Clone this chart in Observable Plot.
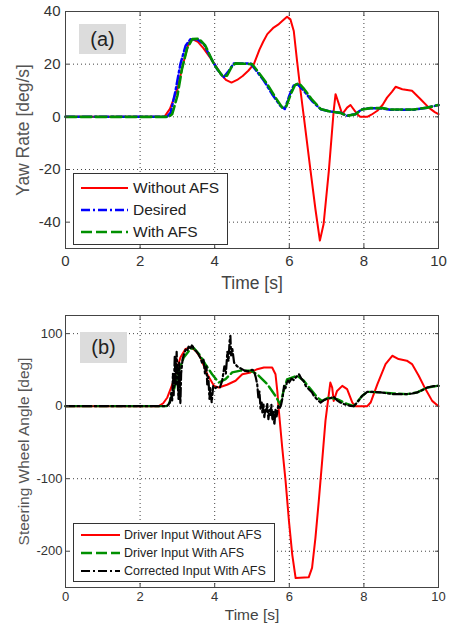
<!DOCTYPE html>
<html><head><meta charset="utf-8">
<script src="https://cdn.jsdelivr.net/npm/d3@7"></script>
<script src="https://cdn.jsdelivr.net/npm/@observablehq/plot@0.6"></script>
<style>
body{margin:0;background:#fff;font-family:"Liberation Sans",Arial,sans-serif;}
#wrap{position:relative;width:454px;height:632px;overflow:hidden;background:#fff}
.panel{position:absolute;left:0}
.tag{position:absolute;background:#dcdcdc;color:#222;display:flex;align-items:center;justify-content:center}
.legend{position:absolute;background:#fff;border:1px solid #333;box-sizing:border-box;color:#222}
.legend .row{display:flex;align-items:center;white-space:nowrap}
.legend svg{flex:none}
</style></head><body><div id="wrap"></div>
<script>
// ---------- Data ----------
const timeTicks = [0, 2, 4, 6, 8, 10];
const yawTicks = [-40, -20, 0, 20, 40];
const steerTicks = [-200, -100, 0, 100];

// (a) Yaw rate [deg/s]: [time, value]
const yawWithoutAFS = [[0,0],[2.65,0],[2.8,3],[3.0,10.5],[3.15,20],[3.3,28],[3.4,29.5],[3.55,28.5],[3.7,26],[3.85,23],[4.0,20],[4.15,16.5],[4.3,14],[4.45,13],[4.6,14],[4.75,15.5],[4.9,17.5],[5.05,20],[5.2,25.5],[5.3,28.5],[5.41,31.4],[5.58,33.9],[5.7,35],[5.81,36.4],[5.94,38],[6.03,37],[6.12,32.6],[6.21,21],[6.3,10],[6.39,0],[6.57,-20.5],[6.7,-35],[6.82,-47],[6.92,-40.7],[7.06,-20.5],[7.19,2.3],[7.24,8.6],[7.33,4.8],[7.42,1],[7.55,3.5],[7.64,4.5],[7.82,1],[7.9,0],[8.09,0],[8.2,0.8],[8.36,2.3],[8.5,4.5],[8.62,7.3],[8.75,9.5],[8.85,11.4],[9.03,10.5],[9.29,9.9],[9.52,6.7],[9.74,3.5],[9.9,1.8],[10,1]];
const yawDesired = [[0,0],[2.72,0],[2.82,1.6],[2.95,9.9],[3.08,20],[3.22,27],[3.35,29.5],[3.53,29.5],[3.71,27.6],[3.89,22.5],[4.07,18],[4.24,15],[4.38,17.5],[4.51,20.3],[4.96,20.3],[5.09,18],[5.32,13.7],[5.54,8.6],[5.76,4.2],[5.88,3],[6.0,8],[6.12,12],[6.22,12.4],[6.39,9.9],[6.61,6],[6.84,2.9],[7.1,2],[7.37,1.6],[7.55,0.4],[7.77,1],[7.95,2.9],[8.18,3.3],[8.5,3.2],[8.71,2.7],[9.34,2.7],[9.7,3.5],[10,4.5]];
const yawWithAFS = [[0,0],[2.76,0],[2.86,1],[3.0,8],[3.12,18],[3.26,26],[3.4,29.5],[3.58,29.7],[3.75,27],[3.98,20],[4.2,15.6],[4.33,15.6],[4.47,19.4],[4.56,20.3],[5.0,20],[5.18,16.8],[5.41,12.4],[5.63,7.3],[5.81,3.5],[5.92,4],[6.05,9],[6.15,12],[6.26,12.8],[6.4,10.5],[6.61,6.5],[6.84,3],[7.1,2],[7.37,1.5],[7.55,0.4],[7.77,1],[7.95,2.8],[8.18,3.3],[8.5,3.3],[8.71,2.8],[9.34,2.8],[9.7,3.5],[10,4.5]];

// (b) Steering wheel angle [deg]: [time, value]
const driverWithoutAFS = [[0,0],[2.5,0],[2.62,4],[2.73,12],[2.9,35],[3.08,67],[3.22,79],[3.35,81],[3.49,76.5],[3.62,67],[3.8,44],[3.98,28],[4.11,25.7],[4.33,29.5],[4.56,35],[4.74,44],[4.96,46.5],[5.14,51],[5.32,53.4],[5.54,53.4],[5.63,44],[5.68,20],[5.72,-6.5],[5.81,-57],[5.9,-103],[5.99,-158],[6.08,-205],[6.17,-237],[6.52,-236],[6.61,-223],[6.7,-182],[6.79,-131],[6.88,-76],[6.97,-20],[7.06,16.6],[7.1,32.6],[7.15,25.7],[7.19,7.3],[7.28,21],[7.42,28],[7.55,23.5],[7.69,5],[7.77,0],[8.09,0],[8.18,5],[8.36,30],[8.58,58],[8.76,69.5],[8.93,65],[9.15,62.7],[9.29,58],[9.47,42],[9.65,23.5],[9.83,7.3],[10,0]];
const driverWithAFS = [[0,0],[2.7,0],[2.77,3],[2.9,21],[3.04,49],[3.17,67],[3.35,79],[3.44,80],[3.58,72],[3.75,58],[3.93,44],[4.11,32.6],[4.29,37.3],[4.47,46.5],[4.69,49],[4.96,49],[5.14,44],[5.41,30.4],[5.63,14],[5.76,2],[5.85,22],[5.94,37],[6.21,42],[6.39,35],[6.57,23.5],[6.75,12],[6.88,7.3],[7.06,12],[7.28,9.7],[7.55,3],[7.73,0],[7.95,14],[8.09,19.8],[8.45,19],[8.8,17.5],[9.15,16.6],[9.43,19],[9.7,25.7],[9.97,28],[10,28]];
const correctedWithAFS = [[0,0],[2.72,0],[2.8,5],[2.84,20],[2.86,8],[2.88,45],[2.9,15],[2.93,70],[2.95,30],[2.98,75],[3.0,40],[3.03,10],[3.05,60],[3.08,3],[3.1,45],[3.14,65],[3.18,72],[3.22,78],[3.26,76],[3.3,82],[3.35,80],[3.4,85],[3.44,78],[3.5,76],[3.56,72],[3.62,66],[3.66,60],[3.7,64],[3.74,45],[3.78,55],[3.8,30],[3.83,40],[3.86,10],[3.88,25],[3.92,5],[3.96,28],[4.02,25],[4.08,27],[4.14,26],[4.2,35],[4.26,55],[4.3,45],[4.34,75],[4.37,62],[4.4,90],[4.42,97],[4.44,70],[4.47,80],[4.52,60],[4.6,55],[4.7,52],[4.8,49],[4.9,48],[5.0,50],[5.05,49],[5.1,40],[5.14,30],[5.17,12],[5.2,20],[5.23,-4],[5.26,5],[5.28,-10],[5.31,2],[5.33,-15],[5.36,-3],[5.39,-8],[5.41,3],[5.44,-18],[5.47,-5],[5.5,-12],[5.52,2],[5.55,-20],[5.58,-8],[5.6,-26],[5.63,-5],[5.66,-14],[5.7,0],[5.74,-3],[5.78,2],[5.82,12],[5.86,28],[5.9,25],[5.95,36],[6.0,33],[6.06,38],[6.12,36],[6.18,40],[6.26,44],[6.32,38],[6.39,34],[6.44,28],[6.48,26],[6.55,22],[6.61,19],[6.66,14],[6.7,12],[6.77,8],[6.84,5],[6.92,8],[7.01,10],[7.1,11],[7.19,13],[7.28,8],[7.37,5],[7.46,3],[7.55,1.5],[7.64,0.5],[7.73,0],[7.85,7],[7.95,14],[8.09,19.8],[8.3,19.5],[8.45,19],[8.65,17.5],[8.8,16.5],[9.0,16.5],[9.15,16.6],[9.3,17.5],[9.43,19],[9.56,22],[9.7,25.7],[9.85,27.5],[10,28]];

// ---------- Styles ----------
const FONT = '"Liberation Sans", Arial, sans-serif';
const RED = "#ff0000", BLUE = "#0000ff", GREEN = "#009000", BLACK = "#000000";
const DASH = "11,4", DASHDOT = "9,3,2,3";
const fmt = d => String(d);

function panel(o) {
  const grid = {stroke: "#222", strokeOpacity: 0.85, strokeDasharray: "1,3"};
  return Plot.plot({
    width: 454, height: o.height,
    marginLeft: 65, marginRight: 16, marginTop: o.marginTop, marginBottom: o.marginBottom,
    style: {fontFamily: FONT, fontSize: o.tickFont + "px", color: "#333", background: "white", overflow: "visible"},
    x: {domain: [0, 10]},
    y: {domain: o.yDomain},
    marks: [
      Plot.gridX(timeTicks, grid),
      Plot.gridY(o.yTicks, grid),
      ...o.series.map(s => Plot.line(s.data, {x: d => d[0], y: d => d[1], stroke: s.color, strokeWidth: s.width, strokeDasharray: s.dash, curve: "linear"})),
      Plot.frame({stroke: "#444", strokeWidth: 1}),
      Plot.axisX(timeTicks, {anchor: "bottom", tickSize: -4, tickPadding: o.xPad, tickFormat: fmt, label: null, fontSize: o.tickFont, stroke: "#444"}),
      Plot.axisX(timeTicks, {anchor: "top", tickSize: -4, fill: "none", label: null, stroke: "#444"}),
      Plot.axisY(o.yTicks, {anchor: "left", tickSize: -4, tickPadding: o.yPad, tickFormat: fmt, label: null, fontSize: o.tickFont, stroke: "#444"}),
      Plot.axisY(o.yTicks, {anchor: "right", tickSize: -4, fill: "none", label: null, stroke: "#444"}),
      Plot.text([o.xLabel], {frameAnchor: "bottom", dy: o.xLabelDy, fontSize: o.labelFont, fill: "#444", lineAnchor: "middle", textAnchor: "middle"}),
      Plot.text([o.yLabel], {frameAnchor: "left", dx: o.yLabelDx, rotate: -90, fontSize: o.labelFont, fill: "#555", lineAnchor: "middle", textAnchor: "middle"})
    ]
  });
}

const wrap = document.getElementById("wrap");

function place(el, top) {
  el.classList.add("panel");
  el.style.top = top + "px";
  wrap.appendChild(el);
}

const chartA = panel({
  height: 300, marginTop: 11, marginBottom: 52, yDomain: [-50, 40], yTicks: yawTicks,
  tickFont: 15, labelFont: 17.5, xPad: 11, yPad: 9,
  xLabel: "Time [s]", yLabel: "Yaw Rate [deg/s]", xLabelDy: 35, yLabelDx: -42,
  series: [
    {data: yawWithoutAFS, color: RED, width: 2},
    {data: yawDesired, color: BLUE, width: 2.5, dash: DASHDOT},
    {data: yawWithAFS, color: GREEN, width: 2.6, dash: DASH}
  ]
});
place(chartA, 0);

const chartB = panel({
  height: 332, marginTop: 15, marginBottom: 45, yDomain: [-250, 125], yTicks: steerTicks,
  tickFont: 13, labelFont: 15.5, xPad: 8, yPad: 7,
  xLabel: "Time [s]", yLabel: "Steering Wheel Angle [deg]", xLabelDy: 28, yLabelDx: -41,
  series: [
    {data: driverWithoutAFS, color: RED, width: 2},
    {data: driverWithAFS, color: GREEN, width: 2.4, dash: DASH},
    {data: correctedWithAFS, color: BLACK, width: 2.2, dash: DASHDOT}
  ]
});
place(chartB, 300);

// ---------- Panel tags ----------
function tag(text, left, top, w, h, size) {
  const d = document.createElement("div");
  d.className = "tag";
  Object.assign(d.style, {left: left + "px", top: top + "px", width: w + "px", height: h + "px", fontSize: size + "px"});
  d.textContent = text;
  wrap.appendChild(d);
}
tag("(a)", 79, 24, 47, 30, 20);
tag("(b)", 80, 332, 47, 31, 20);

// ---------- Legends ----------
function legend(items, o) {
  const box = document.createElement("div");
  box.className = "legend";
  Object.assign(box.style, {left: o.left + "px", top: o.top + "px", width: o.width + "px", height: o.height + "px", paddingTop: o.padTop + "px", fontSize: o.fontSize + "px"});
  for (const it of items) {
    const row = document.createElement("div");
    row.className = "row";
    row.style.height = o.rowH + "px";
    const svg = d3.create("svg").attr("width", o.sampleW + 8 + o.gap).attr("height", o.rowH);
    svg.append("line").attr("x1", 7).attr("x2", 7 + o.sampleW).attr("y1", o.rowH / 2).attr("y2", o.rowH / 2)
      .attr("stroke", it.color).attr("stroke-width", it.width).attr("stroke-dasharray", it.dash || null);
    row.appendChild(svg.node());
    const span = document.createElement("span");
    span.textContent = it.label;
    row.appendChild(span);
    box.appendChild(row);
  }
  wrap.appendChild(box);
}

legend([
  {label: "Without AFS", color: RED, width: 2},
  {label: "Desired", color: BLUE, width: 2.5, dash: DASHDOT},
  {label: "With AFS", color: GREEN, width: 2.6, dash: DASH}
], {left: 73, top: 173, width: 155, height: 72, padTop: 3, rowH: 22, sampleW: 47, gap: 4, fontSize: 15.5});

legend([
  {label: "Driver Input Without AFS", color: RED, width: 2},
  {label: "Driver Input With AFS", color: GREEN, width: 2.4, dash: DASH},
  {label: "Corrected Input With AFS", color: BLACK, width: 2.2, dash: DASHDOT}
], {left: 73, top: 523, width: 202, height: 59, padTop: 2, rowH: 18, sampleW: 39, gap: 3, fontSize: 12.5});
</script>
</body></html>
